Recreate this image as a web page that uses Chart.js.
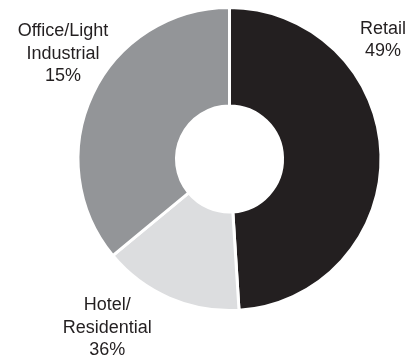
<!DOCTYPE html>
<html>
<head>
<meta charset="utf-8">
<script src="https://cdn.jsdelivr.net/npm/chart.js@4"></script>
<style>
  html, body { margin: 0; padding: 0; background: #fff; }
  #wrap { width: 414px; height: 356px; }
</style>
</head>
<body>
<div id="wrap"><canvas id="mixChart"></canvas></div>
<script>
// portfolio mix by property type
const categories = ["Retail", "Office/Light Industrial", "Hotel/Residential"];
const shares = [49, 15, 36];
const labelLines = [["Retail"], ["Office/Light", "Industrial"], ["Hotel/", "Residential"]];

const sliceColors = ["#231f20", "#dcdddf", "#939598"];
// where each caption sits, as multiples of the outer radius from the centre
const labelSpots = [[1.023, -0.835], [-1.11, -0.82], [-0.815, 1.007]];

const outsideLabels = {
    id: "outsideLabels",
    afterDraw(chart) {
        const arc = chart.getDatasetMeta(0).data[0];
        if (!arc) return;
        const ctx = chart.ctx;
        const r = arc.outerRadius - 1.5;
        ctx.save();
        ctx.font = "18px 'Liberation Sans', Arial, sans-serif";
        ctx.fillStyle = "#231f20";
        ctx.textAlign = "center";
        ctx.textBaseline = "alphabetic";
        categories.forEach(function (name, i) {
            const lines = labelLines[i].concat([shares[i] + "%"]);
            const x = arc.x + labelSpots[i][0] * r;
            const y = arc.y + labelSpots[i][1] * r;
            lines.forEach(function (line, j) {
                ctx.fillText(line, x, y + j * 22.5);
            });
        });
        ctx.restore();
    },
};

new Chart(document.getElementById("mixChart"), {
    type: "doughnut",
    data: {
        labels: categories,
        datasets: [
            {
                data: shares,
                backgroundColor: sliceColors,
                borderColor: "#ffffff",
                borderWidth: 3,
                hoverOffset: 0,
            },
        ],
    },
    options: {
        responsive: true,
        maintainAspectRatio: false,
        animation: false,
        cutout: "35%",
        layout: {
            padding: { left: 76.5, right: 31.5, top: 6, bottom: 44 },
        },
        plugins: {
            legend: { display: false },
            tooltip: { enabled: false },
        },
    },
    plugins: [outsideLabels],
});
</script>
</body>
</html>
